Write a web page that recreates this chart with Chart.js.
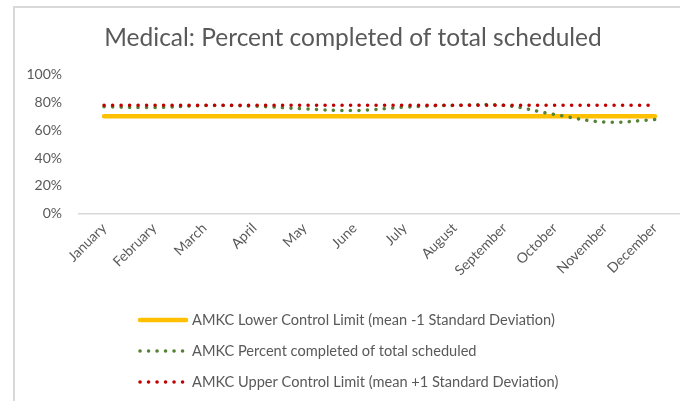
<!DOCTYPE html>
<html>
<head>
<meta charset="utf-8">
<script src="https://cdn.jsdelivr.net/npm/chart.js@4/dist/chart.umd.min.js"></script>
<style>
    html, body { margin: 0; padding: 0; background: #fff; }
    .wrap { position: relative; width: 680px; height: 401px; }
    .frame { position: absolute; left: 13px; top: 6px; right: -2px; bottom: -2px;
        border-left: 2px solid #d9d9d9; border-top: 2px solid #d9d9d9; pointer-events: none; }
</style>
</head>
<body>
<div class="wrap">
    <canvas id="chart" width="680" height="401"></canvas>
    <div class="frame"></div>
</div>
<script>
const months = ["January", "February", "March", "April", "May", "June",
    "July", "August", "September", "October", "November", "December"];
const lowerLimit = [0.70, 0.70, 0.70, 0.70, 0.70, 0.70, 0.70, 0.70, 0.70, 0.70, 0.70, 0.70];
const percentCompleted = [0.768, 0.762, 0.776, 0.772, 0.753, 0.741, 0.765, 0.778, 0.777, 0.712, 0.658, 0.676];
const upperLimit = [0.778, 0.778, 0.778, 0.778, 0.778, 0.778, 0.778, 0.778, 0.778, 0.778, 0.778, 0.778];
const yTicks = [0, 0.2, 0.4, 0.6, 0.8, 1];

const seriesNames = [
    "AMKC Lower Control Limit (mean -1 Standard Deviation)",
    "AMKC Percent completed of total scheduled",
    "AMKC Upper Control Limit (mean +1 Standard Deviation)"
];

const textColor = "#595959";
const fontFamily = "Lato, 'Open Sans', sans-serif";

// legend drawn as a left-aligned column like the Excel one
const columnLegend = {
    id: "columnLegend",
    afterDraw(chart) {
        const ctx = chart.ctx;
        const x0 = 138, y0 = 320, rowGap = 31, sample = 50;
        ctx.save();
        ctx.font = "14.6px " + fontFamily;
        ctx.textBaseline = "middle";
        chart.data.datasets.forEach((ds, i) => {
            const y = y0 + i * rowGap;
            ctx.beginPath();
            ctx.strokeStyle = ds.borderColor;
            ctx.lineWidth = ds.borderWidth;
            ctx.lineCap = "round";
            ctx.setLineDash(ds.borderDash || []);
            ctx.moveTo(x0 + 2, y);
            ctx.lineTo(x0 + sample - 2, y);
            ctx.stroke();
            ctx.setLineDash([]);
            ctx.fillStyle = textColor;
            ctx.fillText(ds.label, x0 + sample + 4, y);
        });
        ctx.restore();
    }
};

const chart = new Chart(document.getElementById("chart"), {
    type: "line",
    data: {
        labels: months,
        datasets: [{
            label: seriesNames[0],
            data: lowerLimit,
            borderColor: "#FFC000",
            borderWidth: 4.5,
            borderCapStyle: "round",
            pointRadius: 0,
            order: 3
        }, {
            label: seriesNames[1],
            data: percentCompleted,
            borderColor: "#548235",
            borderWidth: 3.5,
            borderCapStyle: "round",
            borderDash: [0.1, 8.4],
            tension: 0.4,
            pointRadius: 0,
            order: 2
        }, {
            label: seriesNames[2],
            data: upperLimit,
            borderColor: "#C00000",
            borderWidth: 3.5,
            borderCapStyle: "round",
            borderDash: [0.1, 8.4],
            pointRadius: 0,
            order: 1
        }]
    },
    options: {
        responsive: false,
        animation: false,
        layout: { padding: { left: 26, right: 0, top: 8, bottom: 116 } },
        plugins: {
            legend: { display: false },
            tooltip: { enabled: false },
            title: {
                display: true,
                text: "Medical: Percent completed of total scheduled",
                color: textColor,
                font: { family: fontFamily, size: 24.5, weight: "normal" },
                padding: { top: 15, bottom: 22 }
            }
        },
        scales: {
            x: {
                offset: true,
                grid: { display: false, drawTicks: false },
                border: { display: true, color: "#d9d9d9", width: 1.5 },
                ticks: {
                    color: textColor,
                    font: { family: fontFamily, size: 14 },
                    minRotation: 45,
                    maxRotation: 45,
                    padding: 6
                },
                afterFit: scale => { scale.paddingLeft = 0; scale.paddingRight = 0; }
            },
            y: {
                min: 0,
                max: 1,
                afterBuildTicks: axis => { axis.ticks = yTicks.map(v => ({ value: v })); },
                afterFit: scale => { scale.width = 53; },
                grid: { display: false, drawTicks: false },
                border: { display: false },
                ticks: {
                    color: textColor,
                    font: { family: fontFamily, size: 14 },
                    padding: 17,
                    callback: v => Math.round(v * 100) + "%"
                }
            }
        }
    },
    plugins: [columnLegend]
});
</script>
</body>
</html>
